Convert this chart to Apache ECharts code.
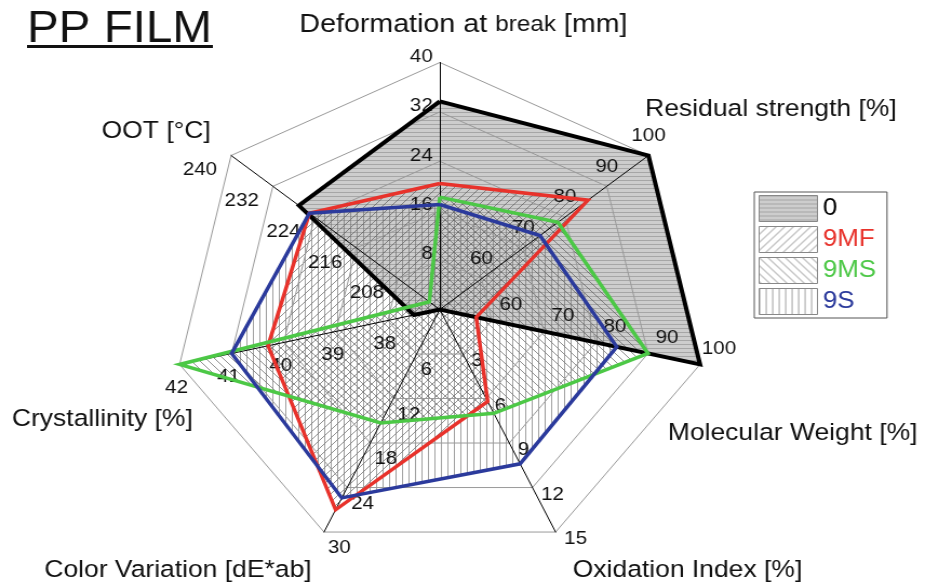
<!DOCTYPE html>
<html>
<head>
<meta charset="utf-8">
<script src="https://cdn.jsdelivr.net/npm/echarts@6/dist/echarts.min.js"></script>
<style>
html,body{margin:0;padding:0;background:#fff;overflow:hidden;}
#wrap{width:925px;height:584px;overflow:hidden;}
#chart{width:856px;height:584px;transform:scaleX(1.0806);transform-origin:0 0;}
</style>
</head>
<body>
<div id="wrap"><div id="chart"></div></div>
<script>
// Axes listed clockwise from the top
const categories = ['Deformation at break [mm]', 'Residual strength [%]', 'Molecular Weight [%]', 'Oxidation Index [%]', 'Color Variation [dE*ab]', 'Crystallinity [%]', 'OOT [°C]'];
const axisMin = [0, 50, 50, 0, 0, 37, 200];
const axisMax = [40, 100, 100, 15, 30, 42, 240];
const seriesNames = ['0', '9MF', '9MS', '9S'];
const s0   = [33.7, 100, 100, 0, 0, 37.5, 227];
const s9MF = [20.4, 85.5, 57, 6.2, 27, 40.3, 225];
const s9MS = [18.2, 78.3, 90, 7.0, 15.3, 42, 202];
const s9S  = [17.0, 74, 84, 10.4, 25.4, 41, 225];

const FONT = '"Liberation Sans", Arial, sans-serif';
// ECharts radar runs counter-clockwise; reorder so the picture runs clockwise
const order = [0, 6, 5, 4, 3, 2, 1];
const ro = arr => order.map(i => arr[i]);

// tick-label placement per axis (style only), clockwise from the top
const tickLabelStyle = [
  { align: 'right',  verticalAlign: 'bottom', padding: [0, 6.5, -3.5, 0] },
  { align: 'center', verticalAlign: 'bottom', padding: [0, 0, 10.5, 0] },
  { align: 'center', verticalAlign: 'bottom', padding: [0, 0, 6.5, 35.2] },
  { align: 'left',   verticalAlign: 'top',    padding: [-2.5, 0, 0, 7.9] },
  { align: 'left',   verticalAlign: 'top',    padding: [6.5, 0, 0, 3.7] },
  { align: 'center', verticalAlign: 'top',    padding: [14, 5.6, 0, 0] },
  { align: 'right',  verticalAlign: 'top',    padding: [5, 13, 0, 0] }
];

function pattern(kind) {
  const c = document.createElement('canvas');
  const ctx = c.getContext('2d');
  if (kind === 'h') {
    c.width = 8; c.height = 4;
    ctx.fillStyle = '#cdcdcd'; ctx.fillRect(0, 0, 8, 4);
    ctx.fillStyle = '#a6a6a6'; ctx.fillRect(0, 0, 8, 1);
  } else if (kind === '/') {
    c.width = 8; c.height = 8;
    ctx.strokeStyle = 'rgba(80,80,80,0.8)'; ctx.lineWidth = 0.8;
    ctx.beginPath(); ctx.moveTo(0, 8); ctx.lineTo(8, 0);
    ctx.moveTo(-1, 1); ctx.lineTo(1, -1); ctx.moveTo(7, 9); ctx.lineTo(9, 7); ctx.stroke();
  } else if (kind === '\\') {
    c.width = 8; c.height = 8;
    ctx.strokeStyle = 'rgba(80,80,80,0.8)'; ctx.lineWidth = 0.8;
    ctx.beginPath(); ctx.moveTo(0, 0); ctx.lineTo(8, 8);
    ctx.moveTo(7, -1); ctx.lineTo(9, 1); ctx.moveTo(-1, 7); ctx.lineTo(1, 9); ctx.stroke();
  } else {
    c.width = 6; c.height = 6;
    ctx.fillStyle = 'rgba(110,110,110,0.65)'; ctx.fillRect(0, 0, 1, 6);
  }
  return { image: c, repeat: 'repeat' };
}
const fills = [pattern('h'), pattern('/'), pattern('\\'), pattern('|')];
const lineColors = ['#000000', '#e8322b', '#4cc846', '#2b3a9c'];
const textColors = ['#000000', '#e8322b', '#4cc846', '#2b3a9c'];
const values = [s0, s9MF, s9MS, s9S];

// axis-name placement (chart px, before the horizontal stretch)
const namePos = [[272, 6], [592, 92], [613, 416], [525, 553], [36, 553], [6, 402], [89, 114]];
const nameTitles = categories.map((n, i) => ({
  text: i === 0 ? '{a|Deformation at }{b|break}{a| [mm]}' : n,
  left: namePos[i][0], top: namePos[i][1],
  textStyle: {
    fontFamily: FONT, fontSize: 24.5, fontWeight: 'normal', color: '#111',
    rich: { a: { fontFamily: FONT, fontSize: 26.5, color: '#111' }, b: { fontFamily: FONT, fontSize: 22.5, color: '#111' } }
  }
}));

const indicators = categories.map((n, i) => ({
  name: n, min: axisMin[i], max: axisMax[i],
  axisLabel: Object.assign({ show: true, showMinLabel: false, margin: 0, color: '#111', fontFamily: FONT, fontSize: 19 }, tickLabelStyle[i])
}));

const chart = echarts.init(document.getElementById('chart'), null, { renderer: 'canvas' });
const areaSeries = values.map((v, i) => ({
  type: 'radar', name: seriesNames[i], symbol: 'none', z: 1,
  lineStyle: { width: 0, opacity: 0 },
  itemStyle: { color: lineColors[i] },
  areaStyle: { color: fills[i], opacity: 1 },
  data: [{ name: seriesNames[i], value: ro(v) }]
}));
const lineSeries = values.map((v, i) => ({
  type: 'radar', name: seriesNames[i], symbol: 'none', z: 5,
  lineStyle: { color: lineColors[i], width: i === 0 ? 4 : 3.5, join: 'miter' },
  itemStyle: { color: lineColors[i] },
  data: [{ name: seriesNames[i], value: ro(v) }]
}));
const option = {
  backgroundColor: '#fff',
  animation: false,
  title: [{
    text: 'PP FILM', left: 20, top: 3,
    textStyle: { fontFamily: FONT, fontSize: 44, fontWeight: 'normal', color: '#111' }
  }].concat(nameTitles),
  graphic: [{ type: 'rect', left: 25, top: 45, shape: { width: 172, height: 3 }, style: { fill: '#111' } }],
  legend: {
    orient: 'vertical', left: 698, top: 192,
    padding: [3, 10, 3, 4], itemGap: 4, itemWidth: 54, itemHeight: 26,
    borderColor: '#555', borderWidth: 1, icon: 'rect',
    textStyle: { fontFamily: FONT, fontSize: 24 },
    data: seriesNames.map((n, i) => ({
      name: n, icon: 'rect',
      itemStyle: { color: fills[i], borderColor: '#888', borderWidth: 1 },
      textStyle: { color: textColors[i], fontFamily: FONT, fontSize: 24 }
    }))
  },
  radar: {
    z: 3,
    center: [407, 309.5], radius: 247, startAngle: 90, splitNumber: 5, shape: 'polygon',
    indicator: ro(indicators),
    axisName: { show: false },
    axisLine: { lineStyle: { color: '#000', width: 1 } },
    splitLine: { lineStyle: { color: '#9a9a9a', width: 1 } },
    splitArea: { show: false },
    axisTick: { show: false },
    axisLabel: { show: true, showMinLabel: false, margin: 0, color: '#111', fontFamily: FONT, fontSize: 19 }
  },
  series: areaSeries.concat(lineSeries)
};
chart.setOption(option);
</script>
</body>
</html>
